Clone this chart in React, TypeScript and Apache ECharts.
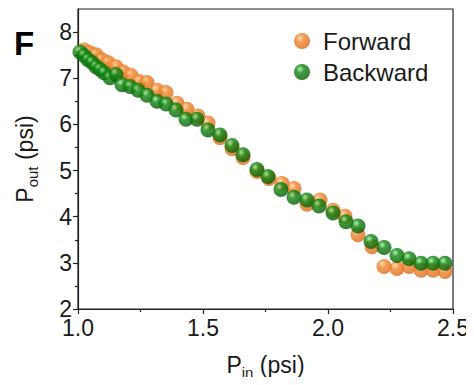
import React, { useEffect, useRef } from "react";
import * as echarts from "echarts";

const forwardX = [1.024, 1.048, 1.072, 1.096, 1.12, 1.152, 1.18, 1.212, 1.244, 1.276, 1.316, 1.352, 1.396, 1.436, 1.48, 1.52, 1.568, 1.616, 1.66, 1.716, 1.764, 1.816, 1.864, 1.916, 1.968, 2.02, 2.068, 2.12, 2.176, 2.224, 2.276, 2.324, 2.372, 2.42, 2.468];
const forwardY = [7.61, 7.55, 7.51, 7.4, 7.34, 7.25, 7.14, 7.06, 6.93, 6.91, 6.74, 6.69, 6.46, 6.33, 6.18, 6.03, 5.71, 5.47, 5.28, 4.98, 4.83, 4.72, 4.61, 4.27, 4.36, 4.14, 4.01, 3.61, 3.35, 2.92, 2.88, 2.92, 2.84, 2.84, 2.81];

const backwardX = [1.008, 1.024, 1.04, 1.056, 1.072, 1.088, 1.104, 1.128, 1.152, 1.176, 1.208, 1.24, 1.276, 1.316, 1.352, 1.392, 1.432, 1.476, 1.52, 1.568, 1.616, 1.66, 1.716, 1.76, 1.812, 1.864, 1.916, 1.964, 2.02, 2.072, 2.12, 2.172, 2.224, 2.276, 2.324, 2.372, 2.42, 2.468];
const backwardY = [7.57, 7.49, 7.4, 7.34, 7.25, 7.19, 7.12, 7.01, 7.08, 6.86, 6.82, 6.74, 6.63, 6.5, 6.44, 6.31, 6.11, 6.11, 5.88, 5.77, 5.54, 5.34, 5.02, 4.87, 4.59, 4.42, 4.36, 4.23, 4.08, 3.89, 3.8, 3.46, 3.33, 3.16, 3.09, 2.99, 2.99, 2.99];

const xMajorTicks = [1.0, 1.5, 2.0, 2.5];
const yMajorTicks = [2, 3, 4, 5, 6, 7, 8];
const yMinorTicks = [2.5, 3.5, 4.5, 5.5, 6.5, 7.5];

const FONT = "Liberation Sans, Arial, sans-serif";
const AXIS_COLOR = "#222";
const TEXT_COLOR = "#1a1a1a";

function ball(base: string, light: string, dark: string) {
  return {
    type: "radial",
    x: 0.38,
    y: 0.32,
    r: 0.7,
    colorStops: [
      { offset: 0, color: light },
      { offset: 0.35, color: base },
      { offset: 1, color: dark },
    ],
  };
}

export default function App() {
  const ref = useRef<HTMLDivElement>(null);
  useEffect(() => {
    if (!ref.current) return;
    const chart = echarts.init(ref.current, undefined, { renderer: "svg" });
    const fwd = forwardX.map((x, i) => [x, forwardY[i]]);
    const bwd = backwardX.map((x, i) => [x, backwardY[i]]);
    chart.setOption({
      animation: false,
      backgroundColor: "#fff",
      grid: {
        left: 78,
        right: 21,
        top: 9,
        bottom: 74,
        show: true,
        borderColor: AXIS_COLOR,
        borderWidth: 1.2,
        backgroundColor: "transparent",
      },
      graphic: [
        {
          type: "text",
          left: 14,
          top: 27,
          style: { text: "F", font: "bold 33px " + FONT, fill: "#000" },
        },
      ],
      legend: {
        orient: "vertical",
        left: 289,
        top: 24,
        itemWidth: 16,
        itemHeight: 16,
        itemGap: 7,
        icon: "circle",
        textStyle: { fontFamily: FONT, fontSize: 24, color: TEXT_COLOR, padding: [0, 0, 0, 8] },
        data: ["Forward", "Backward"],
      },
      xAxis: {
        type: "value",
        min: 1.0,
        max: 2.5,
        interval: 0.5,
        name: "P{sub|in} (psi)",
        nameLocation: "middle",
        nameGap: 40,
        nameTextStyle: {
          fontFamily: FONT,
          fontSize: 23,
          color: TEXT_COLOR,
          rich: {
            sub: { fontFamily: FONT, fontSize: 15, color: TEXT_COLOR, padding: [16, 0, 0, 0] },
          },
        },
        axisLine: { show: true, lineStyle: { color: AXIS_COLOR, width: 1.2 } },
        axisTick: { show: true, inside: false, length: 5, lineStyle: { color: AXIS_COLOR, width: 1.2 } },
        minorTick: { show: true, splitNumber: 2, length: 3, lineStyle: { color: AXIS_COLOR, width: 1.2 } },
        splitLine: { show: false },
        axisLabel: {
          fontFamily: FONT,
          fontSize: 23,
          color: TEXT_COLOR,
          margin: 7,
          customValues: xMajorTicks,
          formatter: (v: number) => v.toFixed(1),
        },
      },
      yAxis: [
        {
          type: "value",
          min: 2,
          max: 8.5,
          interval: 1,
          name: "P{sub|out} (psi)",
          nameLocation: "middle",
          nameGap: 38,
          nameRotate: 90,
          nameTextStyle: {
            fontFamily: FONT,
            fontSize: 23,
            color: TEXT_COLOR,
            rich: {
              sub: { fontFamily: FONT, fontSize: 15, color: TEXT_COLOR, padding: [16, 0, 0, 0] },
            },
          },
          axisLine: { show: true, lineStyle: { color: AXIS_COLOR, width: 1.2 } },
          axisTick: {
            show: true,
            inside: false,
            length: 5,
            customValues: yMajorTicks,
            lineStyle: { color: AXIS_COLOR, width: 1.2 },
          },
          splitLine: { show: false },
          axisLabel: {
            fontFamily: FONT,
            fontSize: 23,
            color: TEXT_COLOR,
            margin: 6,
            customValues: yMajorTicks,
            formatter: (v: number) => String(v),
          },
        },
        {
          type: "value",
          min: 2,
          max: 8.5,
          interval: 1,
          position: "left",
          axisLine: { show: false },
          axisTick: {
            show: true,
            inside: false,
            length: 3,
            customValues: yMinorTicks,
            lineStyle: { color: AXIS_COLOR, width: 1.2 },
          },
          axisLabel: { show: false },
          splitLine: { show: false },
        },
      ],
      series: [
        {
          name: "Forward",
          type: "scatter",
          data: fwd,
          symbol: "circle",
          symbolSize: 15,
          itemStyle: { color: ball("#f0862c", "#ffd9a8", "#d9681a") },
          z: 2,
        },
        {
          name: "Backward",
          type: "scatter",
          data: bwd,
          symbol: "circle",
          symbolSize: 15,
          itemStyle: { color: ball("#0f880f", "#a8e8a8", "#065806") },
          z: 3,
        },
      ],
    });
    return () => chart.dispose();
  }, []);
  return <div ref={ref} style={{ width: 474, height: 385, margin: -8 }} />;
}
